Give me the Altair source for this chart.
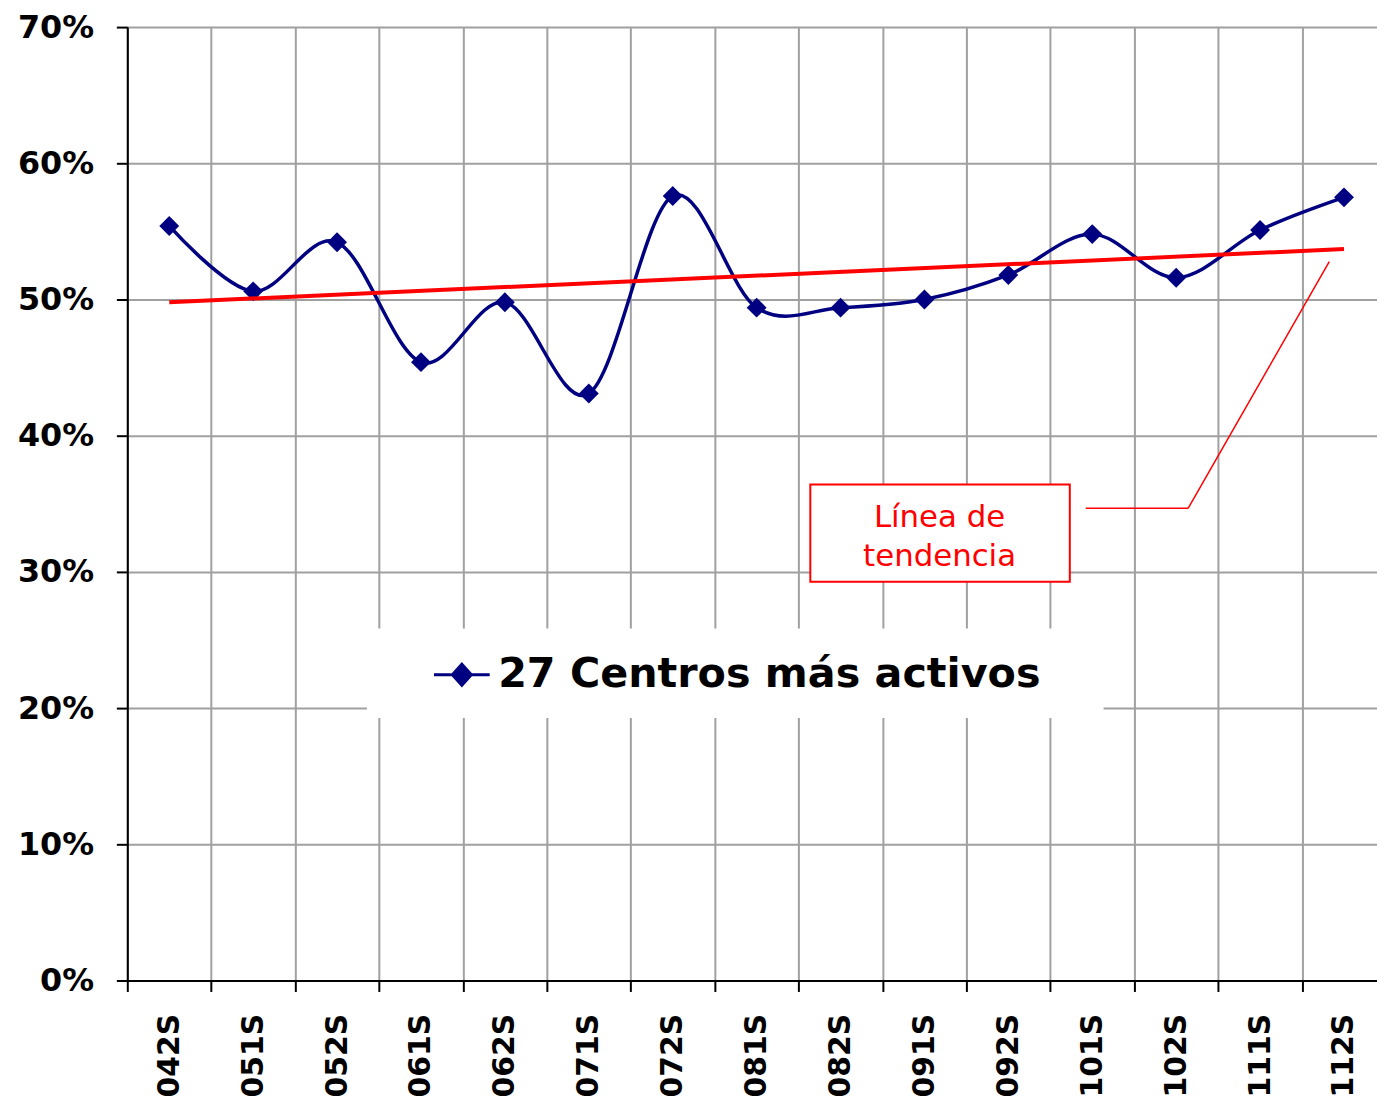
import altair as alt
import pandas as pd

categories = ["042S", "051S", "052S", "061S", "062S", "071S", "072S", "081S",
              "082S", "091S", "092S", "101S", "102S", "111S", "112S"]
values = [0.554, 0.506, 0.542, 0.454, 0.498, 0.431, 0.576, 0.494,
          0.494, 0.500, 0.518, 0.548, 0.516, 0.551, 0.575]
series_name = "27 Centros más activos"
trend_categories = ["042S", "112S"]
trend_values = [0.498, 0.537]
y_ticks = [0.0, 0.1, 0.2, 0.3, 0.4, 0.5, 0.6, 0.7]
note_lines = ["Línea de", "tendencia"]

df = pd.DataFrame({"periodo": categories, "valor": values, "serie": [series_name] * len(categories)})
trend_df = pd.DataFrame({"periodo": trend_categories, "valor": trend_values})
one = pd.DataFrame({"k": [0]})

NAVY = "#000080"
GRID = "#a0a0a0"
FONT = "DejaVu Sans"

x_scale = alt.Scale(type="band", domain=categories, paddingInner=0, paddingOuter=0)
y_scale = alt.Scale(domain=[0, 0.7], nice=False, zero=True)

x_axis = alt.Axis(title=None, labelAngle=-90, labelAlign="right", labelBaseline="middle",
                  labelFont=FONT, labelFontWeight="bold", labelFontSize=30, labelColor="black",
                  labelPadding=22, tickBand="extent", tickSize=11, tickColor="black", tickWidth=2,
                  domainColor="black", domainWidth=2, grid=True, gridColor=GRID, gridWidth=2,
                  labelOverlap=False)
y_axis = alt.Axis(title=None, values=y_ticks, format=".0%", labelFont=FONT, labelFontWeight="bold",
                  labelFontSize=32, labelColor="black", labelPadding=23, tickSize=11,
                  tickColor="black", tickWidth=2, domainColor="black", domainWidth=2,
                  grid=True, gridColor=GRID, gridWidth=2)

X = alt.X("periodo:N", scale=x_scale, axis=x_axis, sort=categories, bandPosition=0.5)
Y = alt.Y("valor:Q", scale=y_scale, axis=y_axis)

color_scale = alt.Scale(domain=[series_name], range=[NAVY])
legend = alt.Legend(title=None, orient="none", legendX=307, legendY=622, padding=0,
                    labelFont=FONT, labelFontWeight="bold", labelFontSize=41.5, labelColor="black",
                    labelLimit=0, labelOffset=7, symbolType="M-1,0H1M-0.34,0L0,-0.38L0.34,0L0,0.38Z",
                    symbolSize=3136, symbolStrokeWidth=3, symbolStrokeColor=NAVY,
                    symbolFillColor=NAVY, symbolOpacity=1)

legend_box = alt.Chart(one).mark_rect(color="white").encode(
    x=alt.value(241), x2=alt.value(982), y=alt.value(605), y2=alt.value(695))

series_line = alt.Chart(df).mark_line(interpolate="cardinal", tension=0, strokeWidth=3.5).encode(
    x=X, y=Y, color=alt.Color("serie:N", scale=color_scale, legend=legend))

series_pts = alt.Chart(df).mark_point(shape="diamond", filled=True, size=400, opacity=1).encode(
    x=X, y=Y, color=alt.Color("serie:N", scale=color_scale, legend=None))

trend = alt.Chart(trend_df).mark_line(color="red", strokeWidth=4).encode(x=X, y=Y)

note_box = alt.Chart(one).mark_rect(fill="white", stroke="red", strokeWidth=2).encode(
    x=alt.value(687), x2=alt.value(948), y=alt.value(460), y2=alt.value(558))

note_text = alt.Chart(one).mark_text(text=note_lines, align="center", baseline="alphabetic",
                                     lineHeight=39, font=FONT, fontSize=31, color="red").encode(
    x=alt.value(817), y=alt.value(503))

leader1 = alt.Chart(one).mark_rule(color="red", strokeWidth=1.5).encode(
    x=alt.value(964), x2=alt.value(1067), y=alt.value(484), y2=alt.value(484))
leader2 = alt.Chart(one).mark_rule(color="red", strokeWidth=1.5).encode(
    x=alt.value(1067), x2=alt.value(1209), y=alt.value(484), y2=alt.value(236))

chart = alt.layer(
    legend_box, series_line, series_pts, trend, note_box, note_text, leader1, leader2
).properties(
    width=1266, height=959,
    autosize=alt.AutoSizeParams(type="none"),
    padding={"left": 120, "top": 16, "right": -9, "bottom": 120},
    background="white",
).configure_view(stroke=None)

chart.save("out.html", embed_options={"renderer": "svg", "actions": False})
